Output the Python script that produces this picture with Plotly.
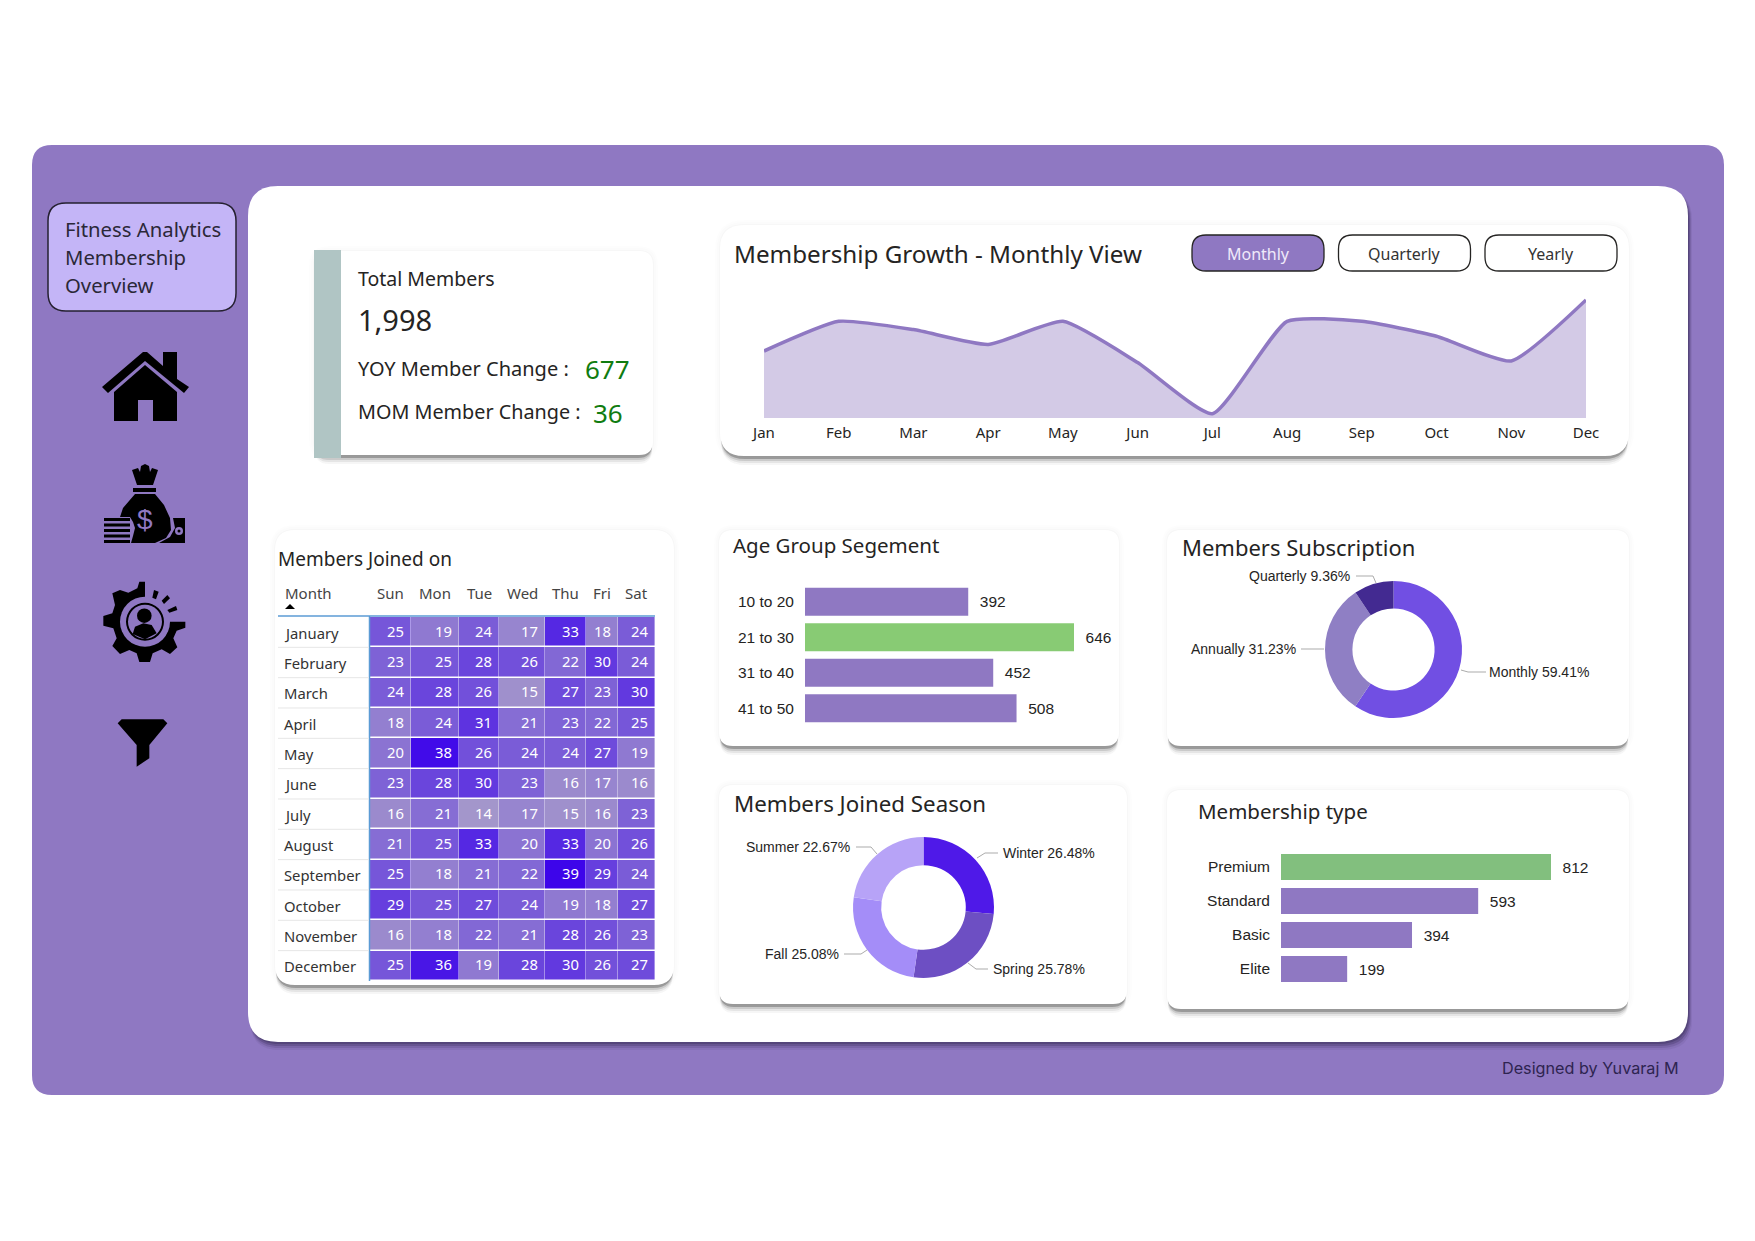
#!/usr/bin/env python3
"""
Fitness Analytics Dashboard
Generates the membership overview page: growth area, heatmap, bars and donuts
"""

import plotly.graph_objects as go

# Config
WIDTH = 1755
HEIGHT = 1241
FONT_UI = "Noto Sans"
FONT_LABEL = "Liberation Sans"
PURPLE = "#8F78C2"
GREEN = "#88CB74"

# Members joined by month and weekday
MONTHS = ["January", "February", "March", "April", "May", "June", "July",
          "August", "September", "October", "November", "December"]
DAYS = ["Sun", "Mon", "Tue", "Wed", "Thu", "Fri", "Sat"]
JOINED = [
    [25, 19, 24, 17, 33, 18, 24],
    [23, 25, 28, 26, 22, 30, 24],
    [24, 28, 26, 15, 27, 23, 30],
    [18, 24, 31, 21, 23, 22, 25],
    [20, 38, 26, 24, 24, 27, 19],
    [23, 28, 30, 23, 16, 17, 16],
    [16, 21, 14, 17, 15, 16, 23],
    [21, 25, 33, 20, 33, 20, 26],
    [25, 18, 21, 22, 39, 29, 24],
    [29, 25, 27, 24, 19, 18, 27],
    [16, 18, 22, 21, 28, 26, 23],
    [25, 36, 19, 28, 30, 26, 27],
]
COLUMN_EDGES = [370, 411, 459, 499, 545, 586, 618, 655]  # widths differ per day

GROWTH = {
    "month": ["Jan", "Feb", "Mar", "Apr", "May", "Jun", "Jul", "Aug", "Sep", "Oct", "Nov", "Dec"],
    "members": [160, 178, 173, 164, 178, 153, 122, 178, 178, 169, 154, 191],
}
AGE_GROUPS = {"10 to 20": 392, "21 to 30": 646, "31 to 40": 452, "41 to 50": 508}
TYPES = {"Premium": 812, "Standard": 593, "Basic": 394, "Elite": 199}
SUBSCRIPTION = {"Monthly": 59.41, "Annually": 31.23, "Quarterly": 9.36}
SEASON = {"Winter": 26.48, "Spring": 25.78, "Fall": 25.08, "Summer": 22.67}

# Where each donut label sits: text x, text y, anchor, leader line points
SUBSCRIPTION_LABELS = {
    "Monthly": (1489, 672, "left", [(1461, 670), (1468, 672), (1486, 672)]),
    "Annually": (1296, 649, "right", [(1301, 649), (1324, 649)]),
    "Quarterly": (1350, 576, "right", [(1356, 576), (1373, 576), (1376, 583)]),
}
SEASON_LABELS = {
    "Winter": (1003, 853, "left", [(977, 858), (985, 853), (998, 853)]),
    "Spring": (993, 969, "left", [(968, 963), (976, 969), (988, 969)]),
    "Fall": (839, 954, "right", [(844, 954), (861, 954), (867, 950)]),
    "Summer": (850, 847, "right", [(856, 847), (871, 847), (877, 854)]),
}


def px_x(x: float) -> float:
    """Pixel column to paper fraction"""
    return x / WIDTH


def px_y(y: float) -> float:
    """Pixel row to paper fraction"""
    return 1 - y / HEIGHT


def round_rect(x0, y0, x1, y1, r) -> str:
    """SVG path of a rounded box, in paper coordinates"""
    rx, ry = r / WIDTH, r / HEIGHT
    a, b, c, d = px_x(x0), px_y(y0), px_x(x1), px_y(y1)
    return (f"M{a + rx},{b} L{c - rx},{b} Q{c},{b} {c},{b - ry} "
            f"L{c},{d + ry} Q{c},{d} {c - rx},{d} "
            f"L{a + rx},{d} Q{a},{d} {a},{d + ry} "
            f"L{a},{b - ry} Q{a},{b} {a + rx},{b} Z")


def add_icon(fig, points, color="black", ox=0, oy=0, scale=1.0):
    """Filled polygon from pixel points"""
    parts = [f"{'M' if i == 0 else 'L'}{px_x(ox + p[0] * scale)},{px_y(oy + p[1] * scale)}"
             for i, p in enumerate(points)]
    fig.add_shape(type="path", path=" ".join(parts) + " Z", xref="paper", yref="paper",
                  fillcolor=color, line=dict(width=0), layer="above")


def add_circle(fig, cx, cy, r, color="black"):
    """Filled circle from pixel centre and radius"""
    fig.add_shape(type="circle", x0=px_x(cx - r), x1=px_x(cx + r), y0=px_y(cy + r), y1=px_y(cy - r),
                  xref="paper", yref="paper", fillcolor=color, line=dict(width=0), layer="above")


def add_box(fig, x0, y0, x1, y1, r=14, fill="white", line=None, width=0):
    """Plain rounded box"""
    fig.add_shape(type="path", path=round_rect(x0, y0, x1, y1, r), xref="paper", yref="paper",
                  fillcolor=fill, line=dict(color=line or fill, width=width), layer="below")


def add_card(fig, x0, y0, x1, y1, r=14):
    """White card with a soft shadow under it"""
    for grow, alpha in [(5, 0.008), (3, 0.012), (1, 0.02)]:
        add_box(fig, x0 - grow, y0 - grow, x1 + grow, y1 + grow, r + grow, f"rgba(60,60,60,{alpha})")
    for off, alpha in [(9, 0.05), (7, 0.09), (5, 0.16), (3, 0.35)]:
        add_box(fig, x0 + 1, y0 + 10, x1 - 1, y1 + off, r, f"rgba(70,70,70,{alpha})")
    add_box(fig, x0, y0, x1, y1, r)


def add_text(fig, x, y, text, size=16, color="#252423", anchor="left", family=FONT_UI):
    """Text placed by pixel position"""
    fig.add_annotation(x=px_x(x), y=px_y(y), xref="paper", yref="paper", text=text, showarrow=False,
                       xanchor=anchor, yanchor="middle", align=anchor, borderpad=0, borderwidth=0,
                       font=dict(family=family, size=size, color=color))


def add_frame(fig):
    """Purple page, white sheet and sidebar"""
    add_box(fig, 32, 145, 1724, 1095, 20, PURPLE)
    for off, alpha in [(8, 0.08), (6, 0.16), (4, 0.26), (2, 0.34)]:
        add_box(fig, 250, 190, 1688 + off // 2, 1042 + off, 30, f"rgba(50,40,80,{alpha})")
    add_box(fig, 248, 186, 1688, 1042, 30)

    add_box(fig, 48, 203, 236, 311, 18, "#C4B5F7", "#252030", 1.5)
    add_text(fig, 65, 229, "Fitness Analytics", 20.3, "#2B2838")
    add_text(fig, 65, 257, "Membership", 20.3, "#2B2838")
    add_text(fig, 65, 285, "Overview", 20.3, "#2B2838")
    add_text(fig, 1502, 1068, "Designed by Yuvaraj M", 16.2, "#2E2450", family="Inter")


def add_icons(fig):
    """Sidebar icons drawn as black shapes"""
    # home
    add_icon(fig, [(102, 387), (143, 352), (147, 352), (163, 366), (163, 352), (177, 352), (177, 379), (189, 387),
                   (184, 393), (145, 361), (108, 393)])
    add_icon(fig, [(114, 392), (145, 365), (177, 392), (177, 421), (153, 421), (153, 400), (138, 400),
                   (138, 421), (114, 421)])
    # money bag
    add_icon(fig, [(132, 470), (138, 468), (140, 472), (141, 466), (145, 464), (149, 466), (150, 472), (152, 468),
                   (158, 470), (153, 485), (137, 485)])
    add_icon(fig, [(133, 488), (156, 488), (156, 492), (133, 492)])
    add_icon(fig, [(135, 494), (155, 494), (164, 505), (170, 518), (171, 530), (166, 538), (155, 543), (131, 543),
                   (133, 536), (135, 528), (133, 522), (130, 517), (120, 517), (123, 508)])
    for y in [518, 523.5, 529, 534.5, 540]:
        add_icon(fig, [(104, y), (130, y), (130, y + 3), (104, y + 3)])
    add_icon(fig, [(173, 518), (185, 518), (185, 543), (159, 543), (170, 537), (175, 528)])
    add_circle(fig, 179, 531, 4, PURPLE)
    add_circle(fig, 179, 531, 1.5)
    add_text(fig, 145, 519, "$", 28, PURPLE, "center", FONT_LABEL)
    # gear with person
    zoom = dict(ox=80, oy=560, scale=1 / 3)
    add_icon(fig, [(316, 185), (316, 203), (290, 212), (280, 235), (292, 262), (270, 282), (245, 268), (218, 280),
                   (210, 306), (178, 306), (170, 280), (148, 270), (120, 282), (97, 258), (110, 235), (100, 205),
                   (70, 197), (70, 168), (97, 160), (105, 135), (97, 100), (120, 90), (145, 98), (172, 85),
                   (178, 65), (195, 65), (195, 185)], **zoom)
    add_circle(fig, 145, 621.7, 25, PURPLE)
    add_circle(fig, 145, 621.7, 19)
    add_circle(fig, 145, 621.7, 17, PURPLE)
    add_circle(fig, 144.3, 615.7, 7.3)
    add_icon(fig, [(158, 222), (165, 200), (190, 190), (215, 195), (230, 220), (195, 238)], **zoom)
    add_icon(fig, [(222, 90), (236, 95), (228, 118), (217, 113)], **zoom)
    add_icon(fig, [(245, 122), (262, 105), (270, 115), (252, 132)], **zoom)
    add_icon(fig, [(262, 150), (288, 138), (292, 150), (268, 158)], **zoom)
    # funnel
    add_icon(fig, [(125, 478), (250, 478), (262, 490), (208, 555), (208, 595), (170, 620), (170, 555), (113, 490)], **zoom)


def add_total_card(fig):
    """KPI card"""
    add_card(fig, 314, 251, 653, 455, 14)
    fig.add_shape(type="rect", x0=px_x(314), x1=px_x(341), y0=px_y(250), y1=px_y(458), xref="paper", yref="paper",
                  fillcolor="#B0C5C4", line=dict(width=0), layer="below")
    add_text(fig, 358, 278, "Total Members", 19.5)
    add_text(fig, 358, 320, "1,998", 29)
    add_text(fig, 358, 368, "YOY Member Change :", 20)
    add_text(fig, 585, 369, "677", 26, "#107C10")
    add_text(fig, 358, 411, "MOM Member Change :", 19.8)
    add_text(fig, 593, 413, "36", 26, "#107C10")


def add_growth(fig):
    """Monthly membership growth area"""
    add_card(fig, 720, 225, 1629, 456, 24)
    add_text(fig, 734, 253, "Membership Growth - Monthly View", 24.2)
    for i, label in enumerate(["Monthly", "Quarterly", "Yearly"]):
        x0 = 1192 + i * 146.5
        add_box(fig, x0, 235, x0 + 132, 271, 14, PURPLE if i == 0 else "white", "#252423", 1.3)
        add_text(fig, x0 + 66, 254, label, 16, "#EFEAFA" if i == 0 else "#333333", "center")

    fig.add_trace(go.Scatter(
        x=GROWTH["month"],
        y=GROWTH["members"],
        mode="lines",
        line=dict(color=PURPLE, width=3.5, shape="spline", smoothing=0.5),
        fill="tozeroy",
        fillcolor="#D3CAE6",
        xaxis="x",
        yaxis="y",
        hoverinfo="skip"
    ))
    fig.update_layout(
        xaxis=dict(domain=[px_x(764), px_x(1586)], range=[0, 11], showgrid=False, zeroline=False, showline=False,
                   ticks="", ticklabelstandoff=4, tickfont=dict(family=FONT_UI, size=15, color="#252423"), anchor="y"),
        yaxis=dict(domain=[px_y(418), px_y(290)], range=[119.4, 197], visible=False, anchor="x")
    )


def add_joined_table(fig):
    """Month by weekday heatmap"""
    add_card(fig, 275, 530, 674, 985, 20)
    add_text(fig, 278, 559, "Members Joined on", 19)
    add_text(fig, 285, 593, "Month", 15, "#444444")
    centers = [(COLUMN_EDGES[i] + COLUMN_EDGES[i + 1]) / 2 for i in range(7)]
    for day, x in zip(DAYS, centers):
        add_text(fig, x, 593, day, 15, "#444444", "center")
    add_icon(fig, [(285, 609), (295, 609), (290, 604)])
    fig.add_shape(type="line", x0=px_x(278), x1=px_x(655), y0=px_y(616), y1=px_y(616), xref="paper", yref="paper",
                  line=dict(color="#5B9BD5", width=1.5))
    fig.add_shape(type="line", x0=px_x(369.5), x1=px_x(369.5), y0=px_y(616), y1=px_y(981), xref="paper", yref="paper",
                  line=dict(color="#5B9BD5", width=1.5))

    fig.add_trace(go.Heatmap(
        z=JOINED,
        x=COLUMN_EDGES,
        y=list(range(13)),
        colorscale=[[0, "#A396CB"], [1, "#3D05EA"]],
        zmin=14,
        zmax=39,
        xgap=0.4,
        ygap=1.5,
        showscale=False,
        hoverinfo="skip",
        xaxis="x2",
        yaxis="y2"
    ))
    xs, ys, texts = [], [], []
    for r, row in enumerate(JOINED):
        for c, v in enumerate(row):
            xs.append(COLUMN_EDGES[c + 1] - 7)
            ys.append(r + 0.53)
            texts.append(str(v))
    fig.add_trace(go.Scatter(
        x=xs, y=ys, text=texts, mode="text", textposition="middle left",
        textfont=dict(family=FONT_UI, size=14.8, color="white"),
        xaxis="x2", yaxis="y2", hoverinfo="skip"
    ))
    fig.update_layout(
        xaxis2=dict(domain=[px_x(370), px_x(655)], range=[370, 655], visible=False, anchor="y2"),
        yaxis2=dict(domain=[px_y(981), px_y(617)], range=[12, 0], visible=False, anchor="x2")
    )
    row_h = 30.33
    for i, month in enumerate(MONTHS):
        add_text(fig, 284, 617 + (i + 0.52) * row_h, month, 14.8, "#333333")
        if i < 11:
            y = px_y(617 + (i + 1) * row_h)
            fig.add_shape(type="line", x0=px_x(278), x1=px_x(369), y0=y, y1=y, xref="paper", yref="paper",
                          line=dict(color="#E6E6E6", width=1))


def add_bars(fig, data, highlight, xaxis, yaxis, x_dom, y_dom, xmax, gap):
    """Horizontal bars with the biggest group in green"""
    labels = list(data.keys())
    values = list(data.values())
    fig.add_trace(go.Bar(
        x=values,
        y=labels,
        orientation="h",
        width=gap,
        marker=dict(color=[highlight if v == max(values) else PURPLE for v in values], line=dict(width=0)),
        text=[f"\u00a0\u00a0{v}" for v in values],
        textposition="outside",
        cliponaxis=False,
        textfont=dict(family=FONT_LABEL, size=15.5, color="#252423"),
        xaxis=xaxis,
        yaxis=yaxis,
        hoverinfo="skip"
    ))
    fig.update_layout({
        xaxis.replace("x", "xaxis"): dict(domain=x_dom, range=[0, xmax], visible=False, anchor=yaxis),
        yaxis.replace("y", "yaxis"): dict(domain=y_dom, autorange="reversed", showgrid=False, zeroline=False,
                                          showline=False, ticks="", ticklabelstandoff=10, anchor=xaxis,
                                          tickfont=dict(family=FONT_LABEL, size=15.5, color="#252423")),
    })


def add_donut(fig, data, colors, x_dom, y_dom, label_spots):
    """Donut with labels off to the side on short leader lines"""
    fig.add_trace(go.Pie(
        labels=list(data.keys()),
        values=list(data.values()),
        hole=0.6,
        sort=False,
        direction="clockwise",
        rotation=0,
        marker=dict(colors=colors, line=dict(width=0)),
        textinfo="none",
        domain=dict(x=x_dom, y=y_dom),
        hoverinfo="skip"
    ))
    for name, value in data.items():
        x, y, anchor, leader = label_spots[name]
        add_text(fig, x, y, f"{name} {value:.2f}%", 14, "#252423", anchor, FONT_LABEL)
        path = " ".join(f"{'M' if i == 0 else 'L'}{px_x(p[0])},{px_y(p[1])}" for i, p in enumerate(leader))
        fig.add_shape(type="path", path=path, xref="paper", yref="paper", line=dict(color="#ABABAB", width=1))


def generate_dashboard() -> go.Figure:
    """Build the whole page"""
    fig = go.Figure()
    add_frame(fig)
    add_icons(fig)
    add_total_card(fig)
    add_growth(fig)
    add_joined_table(fig)

    add_card(fig, 719, 530, 1119, 746)
    add_text(fig, 733, 545, "Age Group Segement", 20.5)
    add_bars(fig, AGE_GROUPS, GREEN, "x3", "y3", [px_x(805), px_x(1074)], [px_y(726), px_y(584)], 646, 0.79)

    add_card(fig, 1167, 530, 1629, 746)
    add_text(fig, 1182, 547, "Members Subscription", 22)
    add_donut(fig, SUBSCRIPTION, ["#714FE3", "#8F7FC4", "#432A91"],
              [px_x(1325), px_x(1462)], [px_y(718), px_y(581)], SUBSCRIPTION_LABELS)

    add_card(fig, 719, 785, 1127, 1004)
    add_text(fig, 734, 803, "Members Joined Season", 22.3)
    add_donut(fig, SEASON, ["#4F19E8", "#6D4FC3", "#A48DF8", "#B7A3F7"],
              [px_x(853), px_x(994)], [px_y(978), px_y(837)], SEASON_LABELS)

    add_card(fig, 1167, 790, 1629, 1009)
    add_text(fig, 1198, 811, "Membership type", 20.5)
    add_bars(fig, TYPES, "#82BF7E", "x4", "y4", [px_x(1281), px_x(1551)], [px_y(986), px_y(850)], 812, 0.76)

    fig.update_layout(
        width=WIDTH,
        height=HEIGHT,
        margin=dict(l=0, r=0, t=0, b=0, autoexpand=False),
        paper_bgcolor="white",
        plot_bgcolor="rgba(0,0,0,0)",
        showlegend=False,
        font=dict(family=FONT_UI)
    )
    return fig


if __name__ == "__main__":
    fig = generate_dashboard()
    fig.write_html("out.html", config=dict(displayModeBar=False), post_script="document.body.style.margin='0';")
    print("[Visual] Dashboard saved to out.html")
